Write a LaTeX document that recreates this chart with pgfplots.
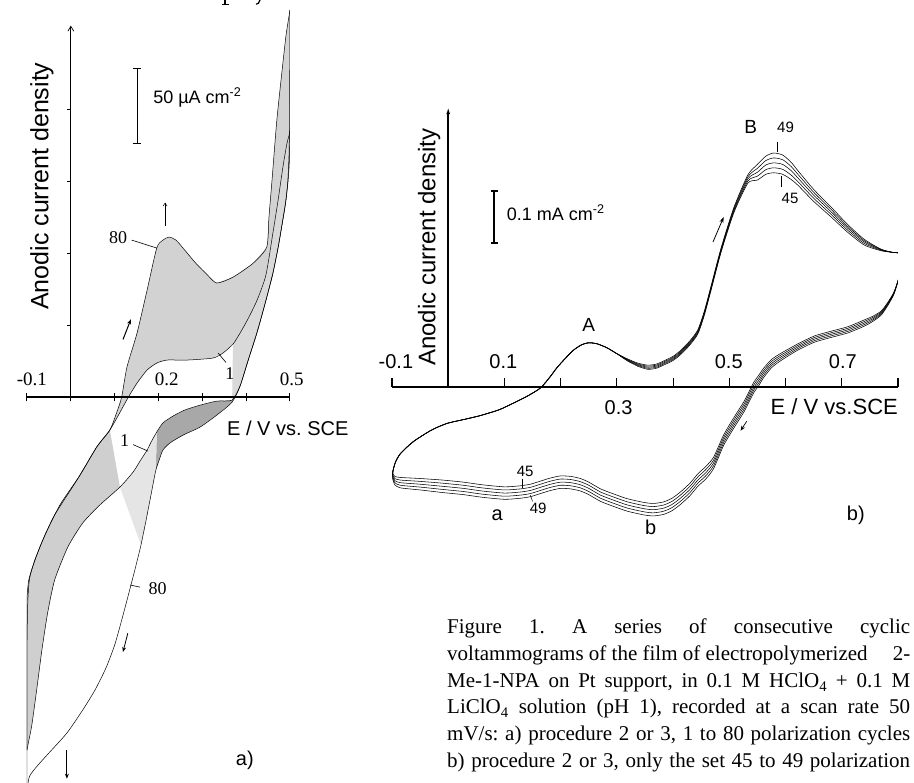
\documentclass[border=0pt]{standalone}
\usepackage{pgfplots}
\pgfplotsset{compat=1.18}
\usepackage{pgfplotstable}
\usetikzlibrary{arrows.meta}
\usepackage{fontspec}
\setmainfont{Liberation Serif}
\setsansfont{Liberation Sans}
\newcommand{\fs}[1]{\fontsize{#1}{#1}\selectfont}

% right panel: cycles 45..49, anodic branch
\pgfplotstableread{
E j45 j46 j47 j48 j49
-0.098 -0.160 -0.160 -0.160 -0.160 -0.160
-0.094 -0.145 -0.145 -0.145 -0.145 -0.145
-0.085 -0.128 -0.128 -0.128 -0.128 -0.128
-0.062 -0.105 -0.105 -0.105 -0.105 -0.105
-0.030 -0.083 -0.083 -0.083 -0.083 -0.083
-0.002 -0.070 -0.070 -0.070 -0.070 -0.070
0.030 -0.062 -0.062 -0.062 -0.062 -0.062
0.057 -0.055 -0.055 -0.055 -0.055 -0.055
0.090 -0.044 -0.044 -0.044 -0.044 -0.044
0.116 -0.031 -0.031 -0.031 -0.031 -0.031
0.140 -0.018 -0.018 -0.018 -0.018 -0.018
0.164 -0.002 -0.002 -0.002 -0.002 -0.002
0.180 0.018 0.018 0.018 0.018 0.018
0.194 0.038 0.038 0.038 0.038 0.038
0.210 0.057 0.057 0.057 0.057 0.057
0.223 0.071 0.071 0.071 0.071 0.071
0.237 0.081 0.081 0.081 0.081 0.081
0.250 0.085 0.085 0.085 0.085 0.085
0.265 0.083 0.083 0.083 0.083 0.083
0.283 0.075 0.075 0.075 0.075 0.075
0.300 0.064 0.064 0.064 0.064 0.064
0.319 0.050 0.051 0.052 0.053 0.054
0.337 0.040 0.0415 0.043 0.0445 0.046
0.355 0.034 0.036 0.038 0.040 0.042
0.370 0.036 0.038 0.040 0.042 0.044
0.383 0.042 0.044 0.046 0.048 0.050
0.400 0.051 0.053 0.055 0.057 0.059
0.414 0.063 0.065 0.067 0.069 0.071
0.430 0.081 0.083 0.085 0.087 0.089
0.444 0.102 0.104 0.106 0.108 0.110
0.455 0.136 0.138 0.140 0.142 0.144
0.467 0.184 0.186 0.188 0.190 0.192
0.485 0.258 0.260 0.262 0.264 0.266
0.508 0.335 0.3375 0.340 0.3425 0.345
0.533 0.392 0.396 0.400 0.404 0.408
0.550 0.398 0.4055 0.413 0.4205 0.428
0.565 0.409 0.418 0.427 0.4355 0.444
0.579 0.412 0.4215 0.431 0.4405 0.450
0.595 0.409 0.4185 0.428 0.437 0.446
0.610 0.399 0.4075 0.416 0.424 0.432
0.622 0.388 0.395 0.402 0.409 0.416
0.650 0.357 0.363 0.369 0.3745 0.380
0.681 0.327 0.332 0.337 0.3415 0.346
0.710 0.298 0.302 0.306 0.3095 0.313
0.740 0.273 0.276 0.279 0.2815 0.284
0.770 0.262 0.263 0.264 0.2645 0.265
0.790 0.259 0.259 0.259 0.259 0.259
0.802 0.258 0.258 0.258 0.258 0.258
}\anodic

% right panel: cycles 45..49, cathodic branch
\pgfplotstableread{
E j45 j46 j47 j48 j49
0.802 0.258 0.258 0.258 0.258 0.258
0.804 0.235 0.235 0.235 0.235 0.235
0.802 0.212 0.212 0.212 0.212 0.212
0.793 0.183 0.182 0.181 0.180 0.179
0.782 0.163 0.1615 0.160 0.1585 0.157
0.770 0.146 0.144 0.142 0.140 0.138
0.755 0.136 0.1335 0.131 0.1285 0.126
0.740 0.129 0.126 0.123 0.120 0.117
0.711 0.116 0.113 0.110 0.107 0.104
0.680 0.107 0.104 0.101 0.098 0.095
0.651 0.098 0.095 0.092 0.089 0.086
0.622 0.083 0.080 0.077 0.074 0.071
0.592 0.065 0.0615 0.058 0.0545 0.051
0.575 0.053 0.049 0.045 0.041 0.037
0.561 0.036 0.0315 0.027 0.0225 0.018
0.552 0.022 0.017 0.012 0.007 0.002
0.544 0.010 0.005 0.000 -0.005 -0.010
0.535 -0.009 -0.014 -0.019 -0.024 -0.029
0.526 -0.028 -0.033 -0.038 -0.043 -0.048
0.508 -0.059 -0.064 -0.069 -0.074 -0.079
0.490 -0.092 -0.097 -0.102 -0.107 -0.112
0.472 -0.135 -0.1405 -0.146 -0.1515 -0.157
0.458 -0.153 -0.159 -0.165 -0.171 -0.177
0.444 -0.167 -0.173 -0.179 -0.185 -0.191
0.430 -0.185 -0.191 -0.197 -0.203 -0.209
0.414 -0.201 -0.207 -0.213 -0.219 -0.225
0.398 -0.214 -0.220 -0.226 -0.232 -0.238
0.383 -0.221 -0.227 -0.233 -0.239 -0.245
0.365 -0.224 -0.230 -0.236 -0.242 -0.248
0.348 -0.222 -0.228 -0.234 -0.240 -0.246
0.319 -0.215 -0.221 -0.227 -0.233 -0.239
0.295 -0.206 -0.212 -0.218 -0.224 -0.230
0.271 -0.196 -0.202 -0.208 -0.214 -0.220
0.250 -0.183 -0.189 -0.195 -0.201 -0.207
0.235 -0.176 -0.182 -0.188 -0.194 -0.200
0.218 -0.172 -0.178 -0.184 -0.190 -0.196
0.200 -0.171 -0.177 -0.183 -0.189 -0.195
0.182 -0.175 -0.181 -0.187 -0.193 -0.199
0.164 -0.181 -0.187 -0.193 -0.199 -0.205
0.146 -0.187 -0.193 -0.199 -0.205 -0.211
0.128 -0.190 -0.196 -0.202 -0.208 -0.214
0.100 -0.192 -0.198 -0.204 -0.210 -0.216
0.060 -0.188 -0.194 -0.200 -0.206 -0.212
0.027 -0.183 -0.189 -0.195 -0.201 -0.207
-0.010 -0.179 -0.185 -0.191 -0.197 -0.203
-0.050 -0.176 -0.1815 -0.187 -0.1925 -0.198
-0.085 -0.174 -0.179 -0.184 -0.189 -0.194
-0.095 -0.172 -0.176 -0.180 -0.184 -0.188
-0.099 -0.165 -0.1675 -0.170 -0.1725 -0.175
-0.098 -0.160 -0.160 -0.160 -0.160 -0.160
}\cathodic

\begin{document}
\frenchspacing
\begin{tikzpicture}

%================ LEFT PANEL a) =================
\begin{axis}[
  at={(27pt,0pt)}, anchor=south west,
  scale only axis, width=263pt, height=774.7pt,
  xmin=-0.1, xmax=0.5, ymin=-268, ymax=270,
  hide axis, clip mode=individual,
]
% ---- shaded regions between cycle 1 and cycle 80
% central region: anodic 80 up, cathodic 80 down to cycle-1 vertex, anodic 1 back
\addplot[draw=none, fill=gray!35] coordinates {
(0.089,-22.9) (0.105,-10.4) (0.116,0) (0.128,20.8)
(0.151,44.4) (0.174,74.3) (0.196,103.5) (0.210,109) (0.224,111.1)
(0.240,109) (0.260,102) (0.285,93) (0.311,85) (0.333,79.2)
(0.370,83.3) (0.416,93) (0.447,104.2) (0.452,125) (0.459,150.7)
(0.470,192.4) (0.482,227) (0.491,251.4) (0.500,268.8)
(0.4998,250) (0.4995,230) (0.499,210) (0.4985,190)
(0.500,185) (0.499,183) (0.493,176) (0.484,160) (0.473,137) (0.461,113.9)
(0.445,84.7) (0.425,67.4) (0.404,54.2) (0.386,44.4) (0.370,36.8)
(0.347,30.6) (0.324,27.1) (0.265,25.7) (0.219,25.7) (0.196,23.6)
(0.174,18.8) (0.151,9.7) (0.130,-0.7) (0.110,-11.8)} -- cycle;
% right band: anodic 1 up, cathodic 1 down
\addplot[draw=none, fill=gray!30] coordinates {
(0.370,36.8) (0.386,44.4) (0.404,54.2) (0.425,67.4) (0.445,84.7)
(0.461,113.9) (0.473,137) (0.484,160) (0.493,176) (0.499,183) (0.500,185)
(0.4995,175) (0.498,160) (0.495,148) (0.490,135) (0.482,120) (0.473,104)
(0.461,86) (0.445,67) (0.425,45.1) (0.404,25) (0.386,7.6) (0.368,-2.1)} -- cycle;
% left band: anodic 1 up, cathodic 1 down
\addplot[draw=none, fill=gray!38] coordinates {
(-0.100,-245.1) (-0.100,-210.4) (-0.100,-168.8) (-0.100,-141.0) (-0.096,-127.1)
(-0.082,-113.2) (-0.059,-95.8) (-0.025,-75) (0.021,-54.2) (0.059,-34.7)
(0.089,-22.9)
(0.112,-62.5) (0.066,-75) (0.027,-87.5) (-0.007,-104.2)
(-0.037,-127.1) (-0.053,-150) (-0.066,-175.7) (-0.078,-203.5) (-0.089,-227.8)
(-0.098,-241.7)} -- cycle;
% dark band between cathodic 1 and cathodic 80
\addplot[draw=none, fill=gray!68] coordinates {
(0.386,7.6) (0.368,-2.1) (0.333,-2.8) (0.295,-5.6) (0.260,-9) (0.233,-13.2)
(0.210,-18) (0.196,-24.3)
(0.194,-50.7) (0.203,-42.4) (0.210,-36.8) (0.226,-31.9) (0.256,-26.4)
(0.295,-20.8) (0.333,-12.5) (0.368,-3.5)} -- cycle;
% light region below it
\addplot[draw=none, fill=gray!20] coordinates {
(0.196,-24.3) (0.183,-31.3) (0.174,-36.8) (0.158,-44.4) (0.142,-52.1) (0.112,-62.5)
(0.160,-102.8) (0.174,-81.9) (0.185,-64.6) (0.194,-50.7)} -- cycle;

% ---- cycle 1, anodic
\addplot[black, line width=0.5pt, smooth, tension=0.4] coordinates {
(-0.100,-245.1) (-0.100,-210.4) (-0.100,-168.8) (-0.100,-141.0) (-0.096,-127.1)
(-0.082,-113.2) (-0.059,-95.8) (-0.025,-75) (0.021,-54.2) (0.059,-34.7)
(0.089,-22.9) (0.110,-11.8) (0.130,-0.7) (0.151,9.7) (0.174,18.8)
(0.196,23.6) (0.219,25.7) (0.265,25.7) (0.324,27.1) (0.347,30.6)
(0.370,36.8) (0.386,44.4) (0.404,54.2) (0.425,67.4) (0.445,84.7)
(0.461,113.9) (0.473,137) (0.484,160) (0.493,176) (0.499,183) (0.500,185)};
% ---- cycle 80, anodic
\addplot[black, line width=0.5pt, smooth, tension=0.4] coordinates {
(-0.100,-279.9) (-0.100,-241.7) (-0.100,-210.4) (-0.100,-168.8) (-0.098,-141.0)
(-0.094,-125.7) (-0.082,-113.2) (-0.064,-99.3) (-0.037,-81.9) (0.014,-57.6)
(0.059,-34.7) (0.089,-22.9) (0.105,-10.4) (0.116,0) (0.128,20.8)
(0.151,44.4) (0.174,74.3) (0.196,103.5) (0.210,109) (0.224,111.1)
(0.240,109) (0.260,102) (0.285,93) (0.311,85) (0.333,79.2)
(0.370,83.3) (0.416,93) (0.447,104.2) (0.452,125) (0.459,150.7)
(0.470,192.4) (0.482,227) (0.491,251.4) (0.500,268.8)};
% ---- cycle 1, cathodic
\addplot[black, line width=0.5pt, smooth, tension=0.4] coordinates {
(0.500,185) (0.4995,175) (0.498,160) (0.495,148) (0.490,135) (0.482,120) (0.473,104)
(0.461,86) (0.445,67) (0.425,45.1) (0.404,25) (0.386,7.6)
(0.368,-2.1) (0.333,-2.8) (0.295,-5.6) (0.260,-9) (0.233,-13.2)
(0.210,-18) (0.196,-24.3) (0.183,-31.3) (0.174,-36.8) (0.158,-44.4)
(0.142,-52.1) (0.112,-62.5) (0.066,-75) (0.027,-87.5) (-0.007,-104.2)
(-0.037,-127.1) (-0.053,-150) (-0.066,-175.7) (-0.078,-203.5) (-0.089,-227.8)
(-0.098,-241.7) (-0.100,-245.1)};
% ---- cycle 80, cathodic
\addplot[black, line width=0.5pt, smooth, tension=0.4] coordinates {
(0.500,268.8) (0.4998,250) (0.4995,230) (0.499,210) (0.4985,190) (0.498,170)
(0.495,150) (0.490,135) (0.482,120) (0.473,104)
(0.461,86) (0.445,67) (0.425,45.1) (0.404,25) (0.386,7.6)
(0.368,-3.5) (0.333,-12.5) (0.295,-20.8) (0.256,-26.4) (0.226,-31.9)
(0.210,-36.8) (0.203,-42.4) (0.194,-50.7) (0.185,-64.6) (0.174,-81.9)
(0.160,-102.8) (0.146,-120.1) (0.130,-138.9) (0.116,-154.9) (0.100,-172.2)
(0.080,-188.2) (0.055,-203.5) (0.027,-217.4) (-0.009,-233.3) (-0.048,-246.5)
(-0.075,-255.6) (-0.094,-263.2) (-0.100,-272.9) (-0.100,-279.9)};

% axes
\draw[line width=1.2pt] (axis cs:-0.1,0) -- (axis cs:0.5,0);
\pgfplotsinvokeforeach{-0.1,0,0.1,0.2,0.3,0.4,0.5}{
  \draw[line width=1pt] (axis cs:#1,-3) -- (axis cs:#1,3);}
\draw[line width=0.7pt, -{Straight Barb[length=5pt,width=6pt]}] (axis cs:0,0) -- (axis cs:0,258);
\pgfplotsinvokeforeach{50,100,150,200}{
  \draw[line width=0.8pt] (axis cs:-0.008,#1) -- (axis cs:0,#1);}

\node[font=\fs{19}] at (axis cs:-0.089,12) {-0.1};
\node[font=\fs{19}] at (axis cs:0.219,12) {0.2};
\node[font=\fs{19}] at (axis cs:0.504,12) {0.5};
\node[rotate=90, font=\sffamily\fs{25}] at (axis cs:-0.066,146.5) {Anodic current density};
\node[font=\sffamily\fs{20}] at (axis cs:0.495,-22) {E / V vs. SCE};

% scale bar
\draw[line width=1pt] (axis cs:0.151,176) -- (axis cs:0.151,228);
\draw[line width=1pt] (axis cs:0.141,228) -- (axis cs:0.161,228);
\draw[line width=1pt] (axis cs:0.141,176) -- (axis cs:0.161,176);
\node[anchor=west, font=\sffamily\fs{18}] at (axis cs:0.180,208) {50 µA cm\textsuperscript{-2}};

% annotations
\node[font=\fs{18}] at (axis cs:0.108,111) {80};
\draw[line width=0.6pt] (axis cs:0.139,109) -- (axis cs:0.196,103.5);
\draw[line width=0.5pt, -{Straight Barb[length=3pt,width=4pt]}] (axis cs:0.215,119) -- (axis cs:0.215,135);
\draw[line width=1pt, -{Stealth[length=5pt,width=4pt]}] (axis cs:0.119,40) -- (axis cs:0.137,54);
\node[font=\fs{18}] at (axis cs:0.363,16) {1};
\draw[line width=0.6pt] (axis cs:0.336,30.6) -- (axis cs:0.354,24);
\node[font=\fs{18}] at (axis cs:0.123,-30) {1};
\draw[line width=0.6pt] (axis cs:0.142,-33) -- (axis cs:0.176,-37.5);
\node[font=\fs{18}] at (axis cs:0.198,-133) {80};
\draw[line width=0.6pt] (axis cs:0.135,-130.5) -- (axis cs:0.158,-132);
\draw[line width=0.8pt, -{Stealth[length=5pt,width=4pt]}] (axis cs:0.130,-164) -- (axis cs:0.119,-177);
\draw[line width=0.8pt, -{Stealth[length=5pt,width=4pt]}] (axis cs:-0.009,-245) -- (axis cs:-0.009,-265);
\node[font=\sffamily\fs{20}] at (axis cs:0.397,-252) {a)};
\end{axis}

%================ RIGHT PANEL b) =================
\begin{axis}[
  at={(392pt,266pt)}, anchor=south west,
  scale only axis, width=506pt, height=410.8pt,
  xmin=-0.1, xmax=0.8, ymin=-0.25, ymax=0.54,
  hide axis, clip mode=individual,
]
\addplot[black, line width=0.55pt, smooth, tension=0.4] table[x=E, y=j45] {\anodic};
\addplot[black, line width=0.55pt, smooth, tension=0.4] table[x=E, y=j46] {\anodic};
\addplot[black, line width=0.55pt, smooth, tension=0.4] table[x=E, y=j47] {\anodic};
\addplot[black, line width=0.55pt, smooth, tension=0.4] table[x=E, y=j48] {\anodic};
\addplot[black, line width=0.55pt, smooth, tension=0.4] table[x=E, y=j49] {\anodic};
\addplot[black, line width=0.55pt, smooth, tension=0.4] table[x=E, y=j45] {\cathodic};
\addplot[black, line width=0.55pt, smooth, tension=0.4] table[x=E, y=j46] {\cathodic};
\addplot[black, line width=0.55pt, smooth, tension=0.4] table[x=E, y=j47] {\cathodic};
\addplot[black, line width=0.55pt, smooth, tension=0.4] table[x=E, y=j48] {\cathodic};
\addplot[black, line width=0.55pt, smooth, tension=0.4] table[x=E, y=j49] {\cathodic};

% axes
\draw[line width=2.4pt] (axis cs:-0.1,0) -- (axis cs:0.8,0);
\pgfplotsinvokeforeach{-0.1,0.1,0.2,0.3,0.4,0.5,0.6,0.7,0.8}{
  \draw[line width=1.2pt] (axis cs:#1,0) -- (axis cs:#1,0.0175);}
\draw[line width=1.5pt, -{Latex[length=7pt,width=4pt]}] (axis cs:0,0) -- (axis cs:0,0.538);

\node[font=\sffamily\fs{20}] at (axis cs:-0.093,0.048) {-0.1};
\node[font=\sffamily\fs{20}] at (axis cs:0.098,0.048) {0.1};
\node[font=\sffamily\fs{20}] at (axis cs:0.499,0.048) {0.5};
\node[font=\sffamily\fs{20}] at (axis cs:0.702,0.048) {0.7};
\node[font=\sffamily\fs{20}] at (axis cs:0.303,-0.040) {0.3};
\node[anchor=east, font=\sffamily\fs{22}] at (axis cs:0.806,-0.038) {E / V vs.SCE};
\node[rotate=90, font=\sffamily\fs{24}] at (axis cs:-0.034,0.269) {Anodic current density};

% scale bar
\draw[line width=1.8pt] (axis cs:0.082,0.277) -- (axis cs:0.082,0.377);
\draw[line width=1.5pt] (axis cs:0.076,0.377) -- (axis cs:0.088,0.377);
\draw[line width=1.5pt] (axis cs:0.076,0.277) -- (axis cs:0.088,0.277);
\node[anchor=west, font=\sffamily\fs{18}] at (axis cs:0.098,0.335) {0.1 mA cm\textsuperscript{-2}};

% annotations
\node[font=\sffamily\fs{19}] at (axis cs:0.250,0.119) {A};
\node[font=\sffamily\fs{19}] at (axis cs:0.538,0.500) {B};
\node[font=\sffamily\fs{15}] at (axis cs:0.600,0.500) {49};
\draw[line width=0.6pt] (axis cs:0.586,0.472) -- (axis cs:0.586,0.452);
\node[font=\sffamily\fs{15}] at (axis cs:0.608,0.362) {45};
\draw[line width=0.6pt] (axis cs:0.592,0.405) -- (axis cs:0.592,0.385);
\draw[line width=0.8pt, -{Stealth[length=6pt,width=4pt]}] (axis cs:0.471,0.279) -- (axis cs:0.490,0.327);
\draw[line width=0.7pt, -{Stealth[length=5pt,width=4pt]}] (axis cs:0.531,-0.066) -- (axis cs:0.520,-0.084);
\node[font=\sffamily\fs{15}] at (axis cs:0.137,-0.163) {45};
\draw[line width=0.6pt] (axis cs:0.132,-0.176) -- (axis cs:0.132,-0.194);
\node[font=\sffamily\fs{15}] at (axis cs:0.160,-0.233) {49};
\draw[line width=0.5pt] (axis cs:0.150,-0.220) -- (axis cs:0.146,-0.208);
\node[font=\sffamily\fs{20}] at (axis cs:0.087,-0.246) {a};
\node[font=\sffamily\fs{20}] at (axis cs:0.360,-0.269) {b};
\node[font=\sffamily\fs{20}] at (axis cs:0.725,-0.246) {b)};
\end{axis}

%================ CAPTION =================
\begin{scope}[every node/.style={anchor=base west, inner sep=0pt, font=\fs{21}}]
\node at (447pt,149pt) {\makebox[463pt][s]{Figure 1. A series of consecutive cyclic}};
\node at (447pt,122pt) {\makebox[463pt][l]{voltammograms of the film of electropolymerized\hfill 2-}};
\node at (447pt,95pt) {\makebox[463pt][s]{Me-1-NPA on Pt support, in 0.1 M HClO\textsubscript{4} + 0.1 M}};
\node at (447pt,69pt) {\makebox[463pt][s]{LiClO\textsubscript{4} solution (pH 1), recorded at a scan rate 50}};
\node at (447pt,42pt) {\makebox[463pt][s]{mV/s: a) procedure 2 or 3, 1 to 80 polarization cycles}};
\node at (447pt,15pt) {\makebox[463pt][s]{b) procedure 2 or 3, only the set 45 to 49 polarization}};
\end{scope}
% descender strokes of the cut-off line above the figure
\draw[line width=1.3pt] (225pt,783pt) -- (225pt,778.5pt);
\draw[line width=0.8pt] (222pt,778.8pt) -- (228.5pt,778.8pt);
\draw[line width=1.2pt] (260pt,783pt) .. controls (259pt,780pt) and (258pt,778.5pt) .. (256pt,778.8pt);

\pgfresetboundingbox
\path[use as bounding box] (0pt,0pt) rectangle (914pt,783pt);
\end{tikzpicture}
\end{document}
